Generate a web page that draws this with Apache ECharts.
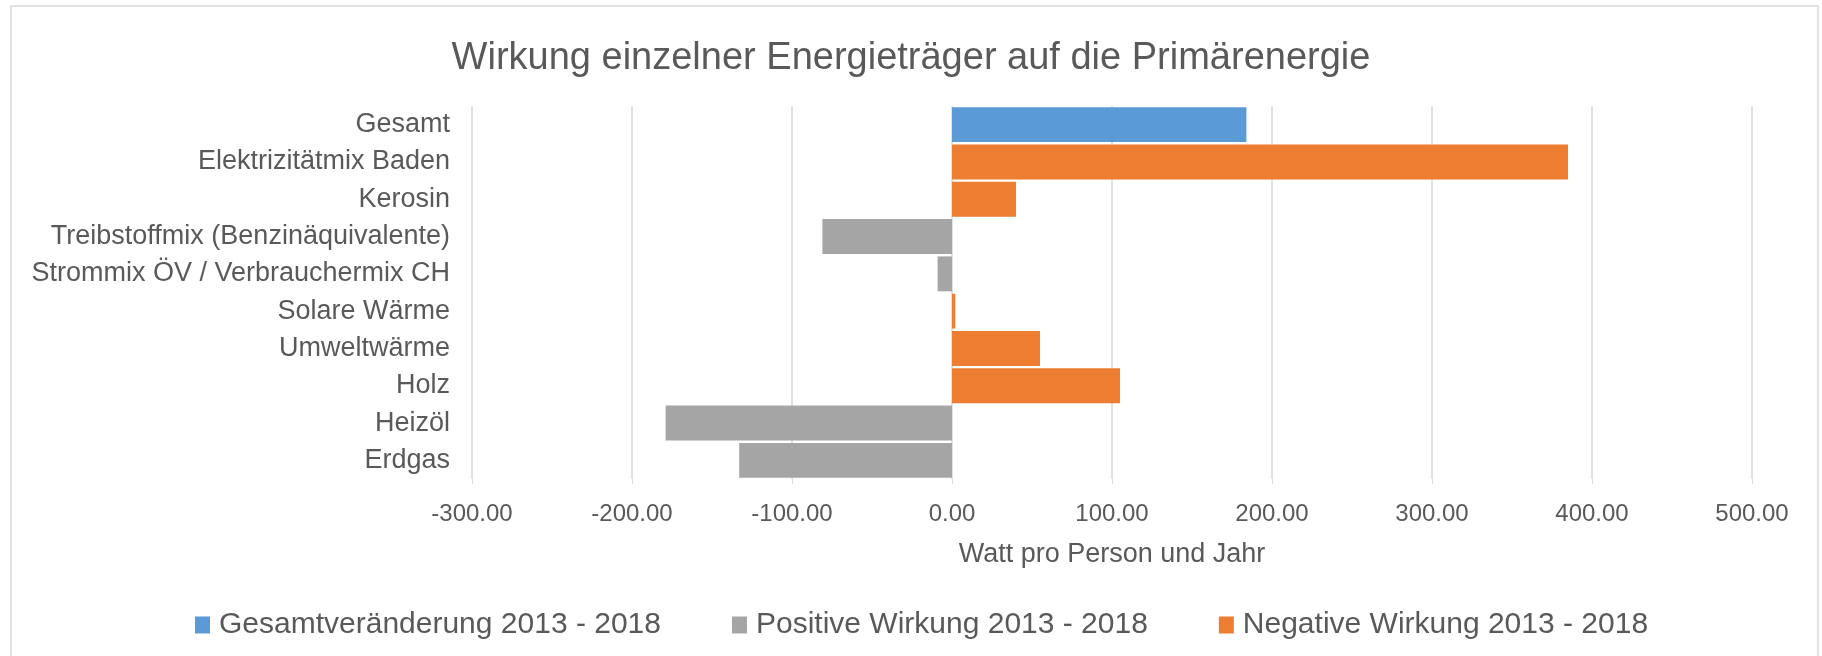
<!DOCTYPE html>
<html>
<head>
<meta charset="utf-8">
<script src="https://cdn.jsdelivr.net/npm/echarts@6/dist/echarts.min.js"></script>
<style>
    html, body {margin: 0; padding: 0; background: #fff;}
    #chart {width: 1822px; height: 656px;}
</style>
</head>
<body>
<div id="chart"></div>
<script>
// 数据
const categories = ['Gesamt', 'Elektrizitätmix Baden', 'Kerosin', 'Treibstoffmix (Benzinäquivalente)',
    'Strommix ÖV / Verbrauchermix CH', 'Solare Wärme', 'Umweltwärme', 'Holz', 'Heizöl', 'Erdgas']
const gesamtValues = [184, null, null, null, null, null, null, null, null, null]
const positiveValues = [null, null, null, -81, -9, null, null, null, -179, -133]
const negativeValues = [null, 385, 40, null, null, 2, 55, 105, null, null]
const seriesNames = ['Gesamtveränderung 2013 - 2018', 'Positive Wirkung 2013 - 2018', 'Negative Wirkung 2013 - 2018']

const textColor = '#595959'
const fontFamily = 'Liberation Sans, Arial, sans-serif'

const barSeries = (name, data, color) => {
    return {
        name: name,
        type: 'bar',
        stack: 'total',
        barCategoryGap: '6.5%',
        data: data,
        itemStyle: {color: color},
    }
}

const charts = echarts.init(document.getElementById('chart'))
let option = {
    animation: false,
    textStyle: {fontFamily: fontFamily},
    title: {
        text: 'Wirkung einzelner Energieträger auf die Primärenergie',
        left: 'center',
        top: 35,
        textStyle: {
            fontSize: 38,
            fontWeight: 'normal',
            color: textColor,
            fontFamily: fontFamily,
        },
    },
    legend: {
        left: 190,
        top: 605,
        itemWidth: 15,
        itemHeight: 17,
        itemGap: 71,
        icon: 'rect',
        data: seriesNames,
        textStyle: {
            fontSize: 30,
            color: textColor,
            fontFamily: fontFamily,
            padding: [0, 0, 0, 4],
        },
    },
    grid: {
        left: 472,
        right: 70,
        top: 106,
        bottom: 177,
        containLabel: false,
    },
    xAxis: {
        type: 'value',
        min: -300,
        max: 500,
        interval: 100,
        name: 'Watt pro Person und Jahr',
        nameLocation: 'middle',
        nameGap: 62,
        nameTextStyle: {fontSize: 27, color: textColor},
        axisLine: {show: false},
        axisTick: {show: true, length: 5, lineStyle: {color: '#D9D9D9'}},
        axisLabel: {
            fontSize: 24,
            color: textColor,
            margin: 23,
            formatter: (v) => v.toFixed(2),
        },
        splitLine: {show: true, lineStyle: {color: '#D9D9D9', width: 1.5}},
    },
    yAxis: {
        type: 'category',
        inverse: true,
        data: categories,
        axisLine: {show: false},
        axisTick: {show: false},
        axisLabel: {fontSize: 27, color: textColor, margin: 22},
    },
    graphic: [{
        type: 'rect',
        shape: {x: 11, y: 6, width: 1807, height: 700},
        style: {fill: 'none', stroke: '#D9D9D9', lineWidth: 1.5},
        silent: true,
    }],
    series: [
        barSeries(seriesNames[0], gesamtValues, '#5B9BD5'),
        barSeries(seriesNames[1], positiveValues, '#A5A5A5'),
        barSeries(seriesNames[2], negativeValues, '#ED7D31'),
    ],
}
charts.setOption(option)
</script>
</body>
</html>
